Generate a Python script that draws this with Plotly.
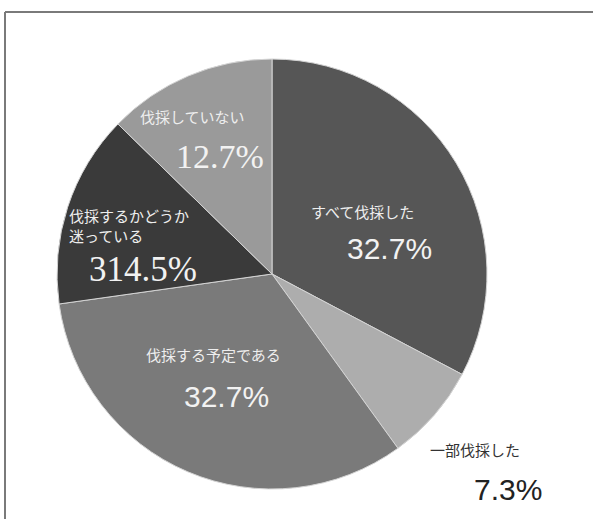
import math
import plotly.graph_objects as go

# ---- data ----
categories = ["すべて伐採した", "一部伐採した", "伐採する予定である", "伐採するかどうか<br>迷っている", "伐採していない"]
values = [32.7, 7.3, 32.7, 14.5, 12.7]
pct_labels = ["32.7%", "7.3%", "32.7%", "314.5%", "12.7%"]

# ---- style ----
W, H = 593, 519
CX, CY, R = 272, 274, 215
colors = ["#565656", "#adadad", "#7a7a7a", "#3a3a3a", "#9a9a9a"]
radial_frac = [0.52, 1.36, 0.53, 0.66, 0.71]
name_shift = [(-5, 5), (-18, 16), (-14, 24), (-8, 4), (-20, 17)]
pct_shift = [(22, -32), (15, -24), (-1, -18), (6, -40), (7, -23)]
name_color = ["#eeeeee", "#333333", "#eeeeee", "#eeeeee", "#eeeeee"]
pct_color = ["#f2f2f2", "#222222", "#f2f2f2", "#f2f2f2", "#f2f2f2"]
pct_font = ["Liberation Sans", "Liberation Sans", "Liberation Sans", "Liberation Serif", "Liberation Serif"]
pct_size = [30, 30, 30, 35, 34]
name_align = ["center", "center", "center", "left", "center"]

fig = go.Figure(go.Pie(
    labels=[c.replace("<br>", "") for c in categories],
    values=values,
    sort=False,
    direction="clockwise",
    rotation=0,
    marker=dict(colors=colors, line=dict(color="#d4d4d4", width=1)),
    textinfo="none",
    hoverinfo="label+percent",
    showlegend=False,
    domain=dict(x=[(CX - R) / W, (CX + R) / W], y=[1 - (CY + R) / H, 1 - (CY - R) / H]),
))

total = sum(values)
cum = 0.0
annotations = []
for i, v in enumerate(values):
    mid = (cum + v / 2) / total * 2 * math.pi
    cum += v
    px = CX + R * radial_frac[i] * math.sin(mid)
    py = CY - R * radial_frac[i] * math.cos(mid)
    xp, yp = px / W, 1 - py / H
    annotations.append(dict(
        x=xp, y=yp, xref="paper", yref="paper", showarrow=False,
        xanchor="center", yanchor="middle",
        text=categories[i], align=name_align[i],
        xshift=name_shift[i][0], yshift=name_shift[i][1],
        font=dict(family="Noto Sans CJK JP", size=15, color=name_color[i]),
    ))
    annotations.append(dict(
        x=xp, y=yp, xref="paper", yref="paper", showarrow=False,
        xanchor="center", yanchor="middle",
        text=pct_labels[i],
        xshift=pct_shift[i][0], yshift=pct_shift[i][1],
        font=dict(family=pct_font[i], size=pct_size[i], color=pct_color[i]),
    ))

shapes = [
    dict(type="line", xref="paper", yref="paper", x0=5 / W, x1=1.0, y0=1 - 12 / H, y1=1 - 12 / H,
         line=dict(color="#7a7a7a", width=2)),
    dict(type="line", xref="paper", yref="paper", x0=5 / W, x1=5 / W, y0=0, y1=1 - 12 / H,
         line=dict(color="#7a7a7a", width=2)),
]

fig.update_layout(
    width=W, height=H,
    margin=dict(l=0, r=0, t=0, b=0),
    paper_bgcolor="white", plot_bgcolor="white",
    annotations=annotations, shapes=shapes,
)

fig.write_html("out.html")
